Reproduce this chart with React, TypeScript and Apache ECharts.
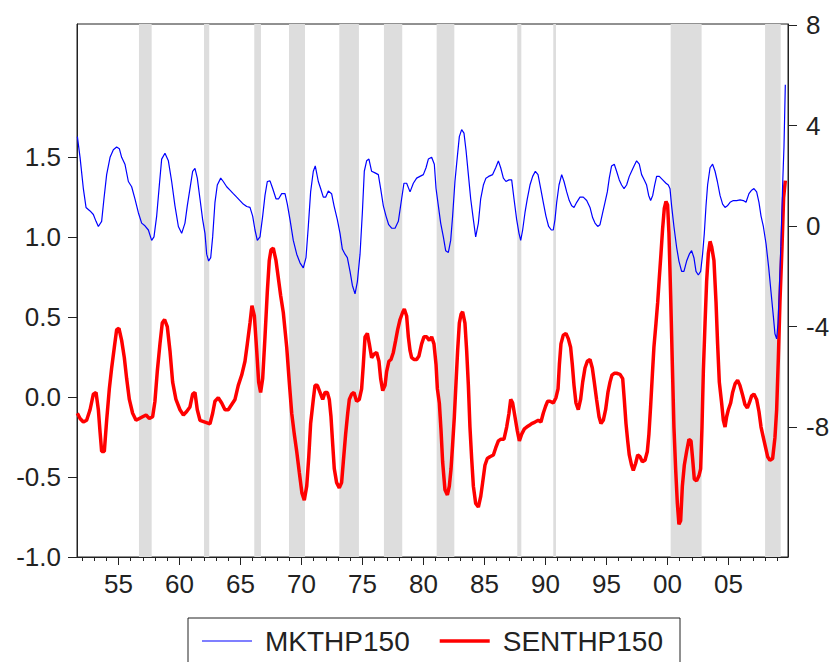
import React, { useEffect, useRef } from "react";
import * as echarts from "echarts";

const MKT_YEARS = [
  1951.63, 1951.85, 1952.12, 1952.34, 1952.67, 1952.94, 1953.16, 1953.35, 1953.62, 1953.81,
  1954.03, 1954.31, 1954.58, 1954.85, 1955.07, 1955.26, 1955.53, 1955.81, 1956.08, 1956.35,
  1956.63, 1956.9, 1957.17, 1957.45, 1957.72, 1957.91, 1958.13, 1958.35, 1958.54, 1958.81,
  1959.09, 1959.36, 1959.63, 1959.91, 1960.18, 1960.45, 1960.64, 1960.86, 1961.08, 1961.27,
  1961.46, 1961.68, 1961.9, 1962.09, 1962.23, 1962.39, 1962.56, 1962.72, 1962.91, 1963.1,
  1963.38, 1963.59, 1963.87, 1964.14, 1964.41, 1964.69, 1964.96, 1965.23, 1965.51, 1965.78,
  1966.0, 1966.19, 1966.38, 1966.6, 1966.82, 1967.01, 1967.2, 1967.42, 1967.64, 1967.91,
  1968.13, 1968.38, 1968.65, 1968.84, 1969.06, 1969.33, 1969.61, 1969.88, 1970.15, 1970.37,
  1970.56, 1970.75, 1970.97, 1971.13, 1971.38, 1971.57, 1971.79, 1971.98, 1972.2, 1972.47,
  1972.67, 1972.94, 1973.16, 1973.35, 1973.57, 1973.76, 1973.98, 1974.17, 1974.39, 1974.58,
  1974.8, 1974.99, 1975.15, 1975.34, 1975.53, 1975.75, 1976.03, 1976.3, 1976.49, 1976.71,
  1976.93, 1977.15, 1977.39, 1977.67, 1977.94, 1978.21, 1978.4, 1978.62, 1978.9, 1979.17,
  1979.44, 1979.71, 1979.99, 1980.21, 1980.4, 1980.67, 1980.89, 1981.03, 1981.22, 1981.41,
  1981.63, 1981.82, 1982.04, 1982.23, 1982.39, 1982.58, 1982.77, 1982.94, 1983.13, 1983.32,
  1983.49, 1983.68, 1983.87, 1984.09, 1984.28, 1984.5, 1984.69, 1984.91, 1985.12, 1985.34,
  1985.67, 1985.92, 1986.14, 1986.33, 1986.55, 1986.76, 1987.01, 1987.23, 1987.42, 1987.64,
  1987.83, 1987.97, 1988.13, 1988.32, 1988.51, 1988.73, 1988.95, 1989.17, 1989.39, 1989.61,
  1989.82, 1990.04, 1990.26, 1990.48, 1990.64, 1990.78, 1990.92, 1991.11, 1991.33, 1991.52,
  1991.74, 1991.95, 1992.15, 1992.34, 1992.56, 1992.83, 1993.1, 1993.38, 1993.65, 1993.87,
  1994.06, 1994.28, 1994.47, 1994.69, 1994.88, 1995.07, 1995.23, 1995.42, 1995.64, 1995.83,
  1996.05, 1996.24, 1996.44, 1996.65, 1996.87, 1997.06, 1997.26, 1997.47, 1997.69, 1997.88,
  1998.1, 1998.29, 1998.46, 1998.62, 1998.79, 1998.95, 1999.11, 1999.33, 1999.61, 1999.88,
  2000.07, 2000.21, 2000.34, 2000.53, 2000.75, 2000.94, 2001.16, 2001.35, 2001.57, 2001.79,
  2001.98, 2002.17, 2002.34, 2002.53, 2002.72, 2002.88, 2003.02, 2003.16, 2003.29, 2003.49,
  2003.7, 2003.9, 2004.09, 2004.31, 2004.52, 2004.72, 2004.91, 2005.13, 2005.4, 2005.67,
  2005.95, 2006.22, 2006.44, 2006.68, 2006.9, 2007.09, 2007.31, 2007.5, 2007.67, 2007.86,
  2008.08, 2008.3, 2008.49, 2008.68, 2008.81, 2008.95, 2009.06, 2009.17, 2009.3, 2009.44,
  2009.55, 2009.66,
];
const MKT_VALUES = [
  1.626, 1.497, 1.302, 1.184, 1.162, 1.14, 1.097, 1.065, 1.097, 1.238,
  1.389, 1.497, 1.544, 1.562, 1.551, 1.497, 1.454, 1.346, 1.313, 1.238,
  1.151, 1.086, 1.069, 1.043, 0.978, 1.0, 1.13, 1.324, 1.486, 1.523,
  1.475, 1.346, 1.194, 1.065, 1.022, 1.086, 1.194, 1.302, 1.41, 1.428,
  1.367, 1.238, 1.108, 1.022, 0.892, 0.849, 0.87, 1.0, 1.216, 1.324,
  1.367, 1.346, 1.313, 1.292, 1.27, 1.248, 1.227, 1.205, 1.19, 1.184,
  1.13, 1.043, 0.978, 1.0, 1.13, 1.259, 1.346, 1.35, 1.302, 1.238,
  1.238, 1.27, 1.27, 1.205, 1.108, 0.978, 0.892, 0.838, 0.806, 0.87,
  1.065, 1.281, 1.41, 1.443, 1.346, 1.302, 1.248, 1.248, 1.287, 1.27,
  1.194, 1.108, 1.022, 0.924, 0.892, 0.87, 0.784, 0.698, 0.644, 0.719,
  0.892, 1.151, 1.41, 1.475, 1.486, 1.41, 1.4, 1.389, 1.302, 1.194,
  1.13, 1.076, 1.054, 1.054, 1.097, 1.238, 1.335, 1.335, 1.281, 1.335,
  1.367, 1.378, 1.389, 1.432, 1.486, 1.497, 1.454, 1.302, 1.194, 1.086,
  1.0, 0.914, 0.903, 0.978, 1.13, 1.346, 1.497, 1.626, 1.67, 1.648,
  1.54, 1.389, 1.238, 1.108, 1.0, 1.086, 1.238, 1.324, 1.367, 1.378,
  1.389, 1.432, 1.475, 1.432, 1.367, 1.346, 1.356, 1.356, 1.238, 1.108,
  1.022, 0.978, 1.043, 1.151, 1.238, 1.324, 1.378, 1.41, 1.389, 1.302,
  1.216, 1.13, 1.065, 1.043, 1.043, 1.108, 1.216, 1.324, 1.389, 1.346,
  1.281, 1.227, 1.194, 1.184, 1.216, 1.248, 1.248, 1.227, 1.184, 1.119,
  1.086, 1.065, 1.076, 1.151, 1.216, 1.281, 1.367, 1.443, 1.454, 1.41,
  1.356, 1.324, 1.302, 1.324, 1.378, 1.41, 1.443, 1.475, 1.454, 1.389,
  1.356, 1.324, 1.259, 1.227, 1.259, 1.324, 1.378, 1.378, 1.356, 1.335,
  1.324, 1.3, 1.194, 1.065, 0.935, 0.849, 0.784, 0.784, 0.849, 0.892,
  0.914, 0.87, 0.784, 0.762, 0.784, 0.892, 1.022, 1.194, 1.324, 1.432,
  1.454, 1.41, 1.346, 1.259, 1.205, 1.184, 1.194, 1.216, 1.227, 1.227,
  1.231, 1.227, 1.216, 1.27, 1.292, 1.302, 1.281, 1.216, 1.13, 1.065,
  0.957, 0.806, 0.654, 0.503, 0.395, 0.363, 0.46, 0.676, 0.957, 1.324,
  1.562, 1.95,
];

const SENT_YEARS = [
  1951.63, 1951.85, 1952.12, 1952.39, 1952.67, 1952.94, 1953.16, 1953.35, 1953.49, 1953.62,
  1953.84, 1954.03, 1954.25, 1954.44, 1954.66, 1954.85, 1955.04, 1955.26, 1955.48, 1955.67,
  1955.89, 1956.16, 1956.44, 1956.71, 1956.98, 1957.26, 1957.53, 1957.8, 1957.99, 1958.18,
  1958.4, 1958.59, 1958.78, 1959.0, 1959.22, 1959.44, 1959.71, 1960.04, 1960.32, 1960.59,
  1960.86, 1961.08, 1961.27, 1961.46, 1961.68, 1962.09, 1962.5, 1962.72, 1962.91, 1963.18,
  1963.46, 1963.73, 1964.0, 1964.28, 1964.55, 1964.82, 1965.1, 1965.37, 1965.56, 1965.78,
  1965.94, 1966.14, 1966.33, 1966.49, 1966.65, 1966.82, 1967.01, 1967.2, 1967.36, 1967.5,
  1967.69, 1967.91, 1968.1, 1968.29, 1968.51, 1968.79, 1969.0, 1969.2, 1969.41, 1969.61,
  1969.82, 1970.04, 1970.23, 1970.43, 1970.59, 1970.75, 1970.97, 1971.11, 1971.3, 1971.52,
  1971.74, 1971.93, 1972.12, 1972.28, 1972.42, 1972.56, 1972.69, 1972.88, 1973.1, 1973.29,
  1973.43, 1973.62, 1973.79, 1973.92, 1974.11, 1974.3, 1974.52, 1974.74, 1974.93, 1975.07,
  1975.21, 1975.4, 1975.56, 1975.75, 1975.94, 1976.16, 1976.35, 1976.49, 1976.66, 1976.85,
  1976.98, 1977.17, 1977.34, 1977.53, 1977.72, 1977.88, 1978.08, 1978.29, 1978.43, 1978.62,
  1978.76, 1978.9, 1979.03, 1979.22, 1979.44, 1979.63, 1979.85, 1980.04, 1980.26, 1980.48,
  1980.67, 1980.86, 1981.03, 1981.14, 1981.3, 1981.44, 1981.57, 1981.76, 1981.96, 1982.12,
  1982.26, 1982.39, 1982.53, 1982.67, 1982.8, 1982.94, 1983.08, 1983.21, 1983.4, 1983.54,
  1983.68, 1983.81, 1983.95, 1984.09, 1984.28, 1984.5, 1984.69, 1984.85, 1985.04, 1985.23,
  1985.45, 1985.73, 1985.92, 1986.14, 1986.35, 1986.6, 1986.82, 1987.01, 1987.15, 1987.31,
  1987.5, 1987.69, 1987.86, 1988.05, 1988.27, 1988.46, 1988.68, 1988.87, 1989.14, 1989.41,
  1989.63, 1989.82, 1990.01, 1990.18, 1990.37, 1990.64, 1990.86, 1991.03, 1991.14, 1991.27,
  1991.46, 1991.68, 1991.87, 1992.06, 1992.2, 1992.34, 1992.5, 1992.69, 1992.88, 1993.05,
  1993.24, 1993.43, 1993.65, 1993.84, 1994.0, 1994.19, 1994.39, 1994.55, 1994.74, 1994.93,
  1995.12, 1995.29, 1995.45, 1995.64, 1995.83, 1996.11, 1996.33, 1996.46, 1996.6, 1996.74,
  1996.87, 1997.06, 1997.2, 1997.39, 1997.56, 1997.75, 1997.94, 1998.16, 1998.35, 1998.48,
  1998.62, 1998.76, 1998.89, 1999.06, 1999.2, 1999.33, 1999.47, 1999.6, 1999.74, 1999.88,
  2000.01, 2000.12, 2000.26, 2000.4, 2000.53, 2000.67, 2000.81, 2000.94, 2001.08, 2001.22,
  2001.38, 2001.57, 2001.76, 2001.93, 2002.06, 2002.2, 2002.39, 2002.58, 2002.72, 2002.83,
  2002.94, 2003.08, 2003.21, 2003.35, 2003.49, 2003.62, 2003.81, 2003.98, 2004.11, 2004.25,
  2004.44, 2004.58, 2004.72, 2004.85, 2004.99, 2005.18, 2005.34, 2005.54, 2005.75, 2005.94,
  2006.14, 2006.35, 2006.55, 2006.71, 2006.9, 2007.09, 2007.31, 2007.5, 2007.67, 2007.86,
  2008.05, 2008.21, 2008.4, 2008.62, 2008.81, 2008.95, 2009.09, 2009.22, 2009.39, 2009.52,
  2009.66,
];
const SENT_VALUES = [
  -7.45, -7.66, -7.8, -7.73, -7.31, -6.69, -6.62, -7.31, -8.2, -8.97,
  -8.97, -7.73, -6.48, -5.65, -4.82, -4.13, -4.07, -4.55, -5.24, -6.07,
  -6.9, -7.45, -7.73, -7.66, -7.59, -7.52, -7.66, -7.59, -6.97, -5.79,
  -4.69, -3.86, -3.72, -4.0, -4.96, -6.21, -6.9, -7.31, -7.52, -7.38,
  -7.2, -6.69, -6.62, -7.31, -7.73, -7.8, -7.87, -7.45, -6.97, -6.83,
  -7.04, -7.31, -7.31, -7.1, -6.9, -6.34, -5.93, -5.38, -4.69, -3.86,
  -3.17, -3.58, -4.96, -6.21, -6.62, -6.07, -4.41, -2.61, -1.37, -0.95,
  -0.88, -1.37, -2.06, -2.75, -3.44, -4.82, -6.21, -7.45, -8.28, -8.97,
  -9.8, -10.63, -10.91, -10.35, -9.25, -7.86, -6.9, -6.34, -6.34, -6.62,
  -6.9, -6.62, -6.62, -6.9, -7.59, -8.69, -9.66, -10.21, -10.42, -10.21,
  -9.38, -8.28, -7.45, -6.9, -6.69, -6.62, -6.97, -6.9, -6.48, -5.51,
  -4.41, -4.27, -4.69, -5.24, -5.1, -5.03, -5.38, -6.07, -6.55, -6.34,
  -5.79, -5.38, -5.31, -5.03, -4.55, -4.13, -3.72, -3.44, -3.3, -3.58,
  -4.41, -4.96, -5.24, -5.31, -5.31, -5.17, -4.69, -4.41, -4.41, -4.55,
  -4.41, -4.69, -5.51, -6.48, -7.04, -8.14, -9.38, -10.49, -10.7, -10.35,
  -9.66, -8.69, -7.59, -6.21, -4.96, -3.86, -3.51, -3.41, -3.86, -4.96,
  -6.34, -8.0, -9.25, -10.35, -11.04, -11.18, -10.77, -10.21, -9.52, -9.25,
  -9.18, -9.11, -8.83, -8.55, -8.48, -8.48, -8.0, -7.45, -6.9, -7.04,
  -7.59, -8.14, -8.55, -8.28, -8.07, -8.0, -7.93, -7.86, -7.8, -7.73,
  -7.8, -7.45, -7.17, -6.97, -6.97, -7.04, -6.83, -6.48, -5.51, -4.69,
  -4.34, -4.27, -4.48, -4.82, -5.51, -6.34, -7.04, -7.31, -6.9, -6.21,
  -5.65, -5.38, -5.31, -5.65, -6.21, -6.9, -7.59, -7.86, -7.73, -7.31,
  -6.62, -6.21, -5.93, -5.86, -5.86, -5.9, -6.07, -6.9, -7.86, -8.55,
  -9.11, -9.52, -9.73, -9.45, -9.11, -9.18, -9.38, -9.32, -8.97, -8.28,
  -7.17, -5.93, -4.82, -3.86, -3.03, -2.06, -1.09, -0.12, 0.7, 0.98,
  0.84, -0.26, -2.75, -5.51, -8.0, -9.66, -11.04, -11.87, -11.73, -10.35,
  -9.52, -8.97, -8.49, -8.55, -9.25, -10.07, -10.14, -9.94, -9.66, -8.0,
  -5.79, -3.86, -2.2, -1.09, -0.61, -0.82, -1.37, -3.03, -4.69, -6.21,
  -7.04, -7.73, -8.0, -7.59, -7.31, -7.04, -6.62, -6.28, -6.14, -6.34,
  -6.69, -7.1, -7.24, -7.04, -6.76, -6.69, -6.9, -7.38, -8.0, -8.42,
  -8.83, -9.18, -9.32, -9.25, -8.42, -7.31, -5.24, -3.03, -0.82, 1.12,
  1.81,
];

const SHADED_PERIODS = [
  [1956.68, 1957.72],
  [1962.01, 1962.44],
  [1966.13, 1966.68],
  [1968.98, 1970.29],
  [1973.1, 1974.71],
  [1976.76, 1978.26],
  [1981.08, 1982.53],
  [1987.69, 1988.02],
  [1990.64, 1990.86],
  [2000.26, 2002.8],
  [2008.0, 2009.28],
];

const X_LABEL_YEARS = [1955, 1960, 1965, 1970, 1975, 1980, 1985, 1990, 1995, 2000, 2005];
const X_MINOR_YEARS = [
  1952, 1953, 1954, 1955, 1956, 1957, 1958, 1959, 1960, 1961, 1962, 1963, 1964, 1965,
  1966, 1967, 1968, 1969, 1970, 1971, 1972, 1973, 1974, 1975, 1976, 1977, 1978, 1979,
  1980, 1981, 1982, 1983, 1984, 1985, 1986, 1987, 1988, 1989, 1990, 1991, 1992, 1993,
  1994, 1995, 1996, 1997, 1998, 1999, 2000, 2001, 2002, 2003, 2004, 2005, 2006, 2007,
  2008, 2009,
];
const LEFT_TICKS = [-1.0, -0.5, 0.0, 0.5, 1.0, 1.5];
const RIGHT_TICKS = [-8, -4, 0, 4, 8];

const FONT = "'Liberation Sans', Arial, Helvetica, sans-serif";
const INK = "#222222";

export default function App() {
  const ref = useRef<HTMLDivElement>(null);

  useEffect(() => {
    if (!ref.current) return;
    const chart = echarts.init(ref.current, undefined, { renderer: "svg" });

    const mktData = MKT_YEARS.map((y, i) => [y, MKT_VALUES[i]]);
    const sentData = SENT_YEARS.map((y, i) => [y, SENT_VALUES[i]]);

    const xMin = 1951.6;
    const xMax = 2009.88;

    chart.setOption({
      animation: false,
      backgroundColor: "#ffffff",
      grid: {
        left: 77,
        top: 24,
        width: 711,
        height: 533,
        show: true,
        borderColor: INK,
        borderWidth: 1,
        backgroundColor: "transparent",
        containLabel: false,
      },
      legend: {
        data: [
          { name: "MKTHP150", icon: "path://M0,0 L50,0 L50,1.2 L0,1.2 Z" },
          { name: "SENTHP150", icon: "path://M0,0 L50,0 L50,3.5 L0,3.5 Z" },
        ],
        left: 188,
        top: 618,
        orient: "horizontal",
        itemWidth: 50,
        itemHeight: 14,
        itemGap: 30,
        symbolKeepAspect: true,
        padding: [9, 17, 30, 14],
        borderColor: INK,
        borderWidth: 1,
        textStyle: {
          fontSize: 28,
          fontFamily: FONT,
          color: INK,
          padding: [0, 0, 0, 8],
        },
      },
      xAxis: [
        {
          type: "value",
          min: xMin,
          max: xMax,
          position: "bottom",
          axisLine: { show: true, onZero: false, lineStyle: { color: INK, width: 1 } },
          axisTick: {
            show: true,
            customValues: X_LABEL_YEARS,
            length: 8,
            lineStyle: { color: INK, width: 1 },
          },
          axisLabel: {
            customValues: X_LABEL_YEARS,
            formatter: (v: number) => String(Math.round(v) % 100).padStart(2, "0"),
            fontSize: 26,
            fontFamily: FONT,
            color: INK,
            margin: 14,
          },
          splitLine: { show: false },
        },
        {
          type: "value",
          min: xMin,
          max: xMax,
          position: "bottom",
          axisLine: { show: false, onZero: false },
          axisTick: {
            show: true,
            customValues: X_MINOR_YEARS,
            length: 4,
            lineStyle: { color: INK, width: 1 },
          },
          axisLabel: { show: false },
          splitLine: { show: false },
        },
      ],
      yAxis: [
        {
          type: "value",
          position: "left",
          min: -1.0,
          max: 2.33,
          axisLine: { show: true, onZero: false, lineStyle: { color: INK, width: 1 } },
          axisTick: {
            show: true,
            customValues: LEFT_TICKS,
            length: 9,
            lineStyle: { color: INK, width: 1 },
          },
          axisLabel: {
            customValues: LEFT_TICKS,
            formatter: (v: number) => v.toFixed(1),
            fontSize: 26,
            fontFamily: FONT,
            color: INK,
            margin: 16,
          },
          splitLine: { show: false },
        },
        {
          type: "value",
          position: "right",
          min: -13.17,
          max: 8.04,
          axisLine: { show: true, onZero: false, lineStyle: { color: INK, width: 1 } },
          axisTick: {
            show: true,
            customValues: RIGHT_TICKS,
            length: 9,
            lineStyle: { color: INK, width: 1 },
          },
          axisLabel: {
            customValues: RIGHT_TICKS,
            formatter: (v: number) => String(v),
            fontSize: 26,
            fontFamily: FONT,
            color: INK,
            margin: 18,
          },
          splitLine: { show: false },
        },
      ],
      series: [
        {
          name: "SENTHP150",
          type: "line",
          xAxisIndex: 0,
          yAxisIndex: 1,
          data: sentData,
          symbol: "none",
          z: 2,
          lineStyle: { color: "#ff0000", width: 3.5 },
          itemStyle: { color: "#ff0000" },
          markArea: {
            silent: true,
            itemStyle: { color: "#dddddd" },
            data: SHADED_PERIODS.map(([a, b]) => [{ xAxis: a }, { xAxis: b }]),
          },
        },
        {
          name: "MKTHP150",
          type: "line",
          xAxisIndex: 0,
          yAxisIndex: 0,
          data: mktData,
          symbol: "none",
          z: 3,
          lineStyle: { color: "#0000ff", width: 1.2 },
          itemStyle: { color: "#0000ff" },
        },
      ],
    });

    return () => {
      chart.dispose();
    };
  }, []);

  return (
    <div
      ref={ref}
      style={{ position: "absolute", left: 0, top: 0, width: 834, height: 662 }}
    />
  );
}
